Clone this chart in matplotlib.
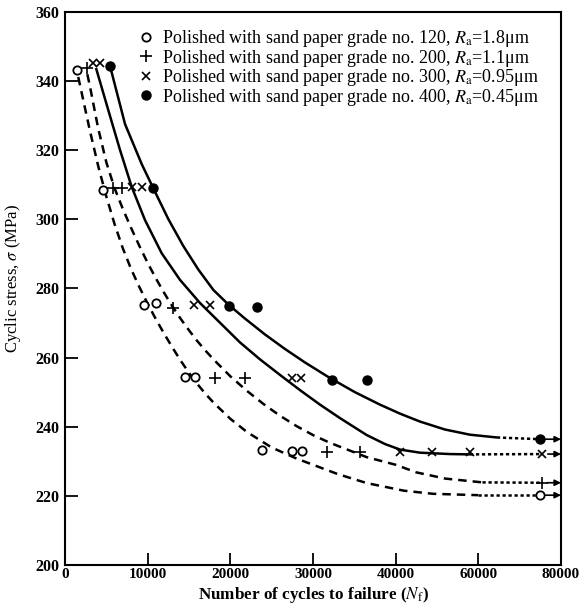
import numpy as np
import matplotlib
matplotlib.use("Agg")
import matplotlib.pyplot as plt

plt.rcParams['font.family'] = ['Liberation Serif', 'DejaVu Serif']
plt.rcParams['mathtext.fontset'] = 'stix'

# ---------------- data ----------------
labels = [
    "Polished with sand paper grade no. 120, $R_\\mathrm{a}$=1.8\u03bcm",
    "Polished with sand paper grade no. 200, $R_\\mathrm{a}$=1.1\u03bcm",
    "Polished with sand paper grade no. 300, $R_\\mathrm{a}$=0.95\u03bcm",
    "Polished with sand paper grade no. 400, $R_\\mathrm{a}$=0.45\u03bcm",
]

# measured points (cycles, MPa)
g120_n = [1415, 4633, 9556, 11007, 14515, 15725, 23793, 27422, 28631]
g120_s = [343.2, 308.5, 275.2, 275.9, 254.5, 254.5, 233.3, 233.1, 233.1]
g200_n = [2625, 5843, 6858, 13100, 18144, 21773, 31655, 35683]
g200_s = [343.7, 309.0, 309.0, 274.3, 254.0, 254.0, 232.8, 232.8]
g300_n = [3423, 4234, 8068, 9350, 15604, 17539, 27422, 28510, 41040, 48709, 57973]
g300_s = [345.2, 345.2, 309.5, 309.5, 275.2, 275.2, 254.0, 254.0, 232.8, 232.8, 232.8]
g400_n = [5443, 10681, 19837, 23188, 32333, 36567]
g400_s = [344.4, 309.0, 275.0, 274.7, 253.5, 253.5]

# run-out points (no failure), marked with arrows
runout_n = [74906, 75306, 75463, 74906]
runout_s = [220.2, 223.8, 232.1, 236.4]

# fitted curves
c120_n = [1600, 2000, 3000, 4000, 5000, 6000, 7000, 8000, 9000, 10000, 11000, 12000,
          13000, 14000, 15000, 16000, 17000, 18000, 20000, 22000, 25000, 28000, 30000,
          33000, 36500, 42000, 49000, 60000]
c120_s = [341.2, 336.8, 325.8, 315.6, 306.6, 298.6, 291.6, 285.6, 280.4, 275.6, 271.1,
          266.9, 262.9, 259.1, 255.6, 252.4, 249.5, 246.9, 242.3, 238.5, 234.0, 230.8,
          229.0, 226.3, 223.7, 221.5, 220.6, 220.2]
c200_n = [2700, 3000, 4000, 5000, 6000, 7000, 8000, 9000, 10000, 11000, 12000, 13000,
          14000, 15000, 16000, 17000, 18000, 20000, 22000, 24000, 26000, 28000, 30000,
          32000, 36500, 40000, 45000, 52000, 61000]
c200_s = [342.0, 338.7, 326.5, 316.5, 309.0, 303.0, 297.5, 292.3, 287.4, 282.9, 278.7,
          274.8, 271.2, 267.9, 264.8, 262.0, 259.4, 254.6, 250.4, 246.6, 243.2, 240.2,
          237.6, 235.4, 231.2, 229.0, 226.8, 225.0, 223.9]
c300_n = [3750, 5238, 6653, 8068, 9677, 11697, 13910, 16330, 18749, 21168, 23587,
          26006, 28426, 30845, 33264, 36494, 38707, 41040, 45878, 53135, 57973]
c300_s = [343.8, 331.6, 320.1, 309.4, 299.8, 290.2, 282.5, 275.8, 270.1, 264.4, 259.5,
          255.0, 250.6, 246.4, 242.5, 237.6, 235.0, 233.4, 232.5, 232.1, 232.0]
c400_n = [5443, 7258, 9278, 10681, 12495, 14310, 16124, 17939, 19837, 21773, 24192,
          26611, 29030, 32054, 35078, 38102, 41040, 45878, 51926, 57973, 64505]
c400_s = [344.4, 327.6, 316.0, 309.0, 300.1, 292.3, 285.5, 279.6, 275.2, 271.3, 266.7,
          262.5, 258.6, 254.1, 250.0, 246.4, 243.8, 241.5, 239.2, 237.7, 236.9]

x_ticks = [0, 10000, 20000, 30000, 40000, 60000, 80000]
y_ticks = [200, 220, 240, 260, 280, 300, 320, 340, 360]

# ---------------- figure ----------------
fig = plt.figure(figsize=(5.82, 6.14), dpi=100)
ax = fig.add_axes([65/582, 1-565/614, 496/582, 553/614])

def fwd(x):
    x = np.asarray(x, dtype=float)
    return np.where(x <= 40000, x, 40000 + (x - 40000) / 2)

def inv(y):
    y = np.asarray(y, dtype=float)
    return np.where(y <= 40000, y, 40000 + (y - 40000) * 2)

ax.set_xscale('function', functions=(fwd, inv))
ax.set_xlim(0, 80000)
ax.set_ylim(200, 360)

lw = 1.8
dash = (3.4, 2.4)
dot = (1.3, 1.1)

curves = [(c120_n, c120_s, dash), (c200_n, c200_s, dash),
          (c300_n, c300_s, None), (c400_n, c400_s, None)]
for (cn, cs, ds), rn, rs in zip(curves, runout_n, runout_s):
    if ds is None:
        ax.plot(cn, cs, color='k', lw=lw, solid_capstyle='butt',
                solid_joinstyle='round', zorder=2)
    else:
        ax.plot(cn, cs, color='k', lw=lw, dashes=ds, dash_capstyle='butt', zorder=2)
    ax.plot([cn[-1], rn], [cs[-1], rs], color='k', lw=lw, dashes=dot, zorder=2)
    ax.annotate('', xy=(80000, rs), xytext=(rn, rs),
                arrowprops=dict(arrowstyle='-|>', color='k', lw=1.2,
                                mutation_scale=9, shrinkA=4, shrinkB=0), zorder=3)

ms_kw = dict(ls='none', color='k', zorder=4)
h1, = ax.plot(g120_n + [runout_n[0]], g120_s + [runout_s[0]], marker='o', ms=6,
              mfc='white', mew=1.3, **ms_kw)
h2, = ax.plot(g200_n + [runout_n[1]], g200_s + [runout_s[1]], marker='+', ms=8,
              mew=1.2, **ms_kw)
h3, = ax.plot(g300_n + [runout_n[2]], g300_s + [runout_s[2]], marker='x', ms=6,
              mew=1.2, **ms_kw)
h4, = ax.plot(g400_n + [runout_n[3]], g400_s + [runout_s[3]], marker='o', ms=6.5,
              mfc='k', mew=1.0, **ms_kw)

ax.set_xticks(x_ticks)
ax.set_xticklabels([str(v) for v in x_ticks])
ax.set_yticks(y_ticks)
ax.tick_params(direction='in', length=9, width=1.3, top=False, right=False)
ax.tick_params(axis='x', labelsize=11, pad=2)
ax.tick_params(axis='y', labelsize=11.5, pad=4)
for lab in ax.get_xticklabels() + ax.get_yticklabels():
    lab.set_fontweight('bold')
for sp in ax.spines.values():
    sp.set_linewidth(1.5)

ax.set_xlabel("Number of cycles to failure ($N_\\mathrm{f}$)", fontsize=12.3,
              fontweight='bold')
ax.xaxis.set_label_coords(0.5, -(585 - 565) / 553)
ax.set_ylabel("Cyclic stress, $\\sigma$ (MPa)", fontsize=12)
ax.yaxis.set_label_coords((23 - 65) / 496, 1 - (278.5 - 12) / 553)

leg = ax.legend([h1, h2, h3, h4], labels, loc='upper left',
                bbox_to_anchor=((138 - 65) / 496, 1 - (28 - 12) / 553),
                frameon=False, fontsize=13, handlelength=0.9, handletextpad=0.45,
                labelspacing=-0.08, borderpad=0, borderaxespad=0, numpoints=1)

fig.savefig('out.png', dpi=100)
